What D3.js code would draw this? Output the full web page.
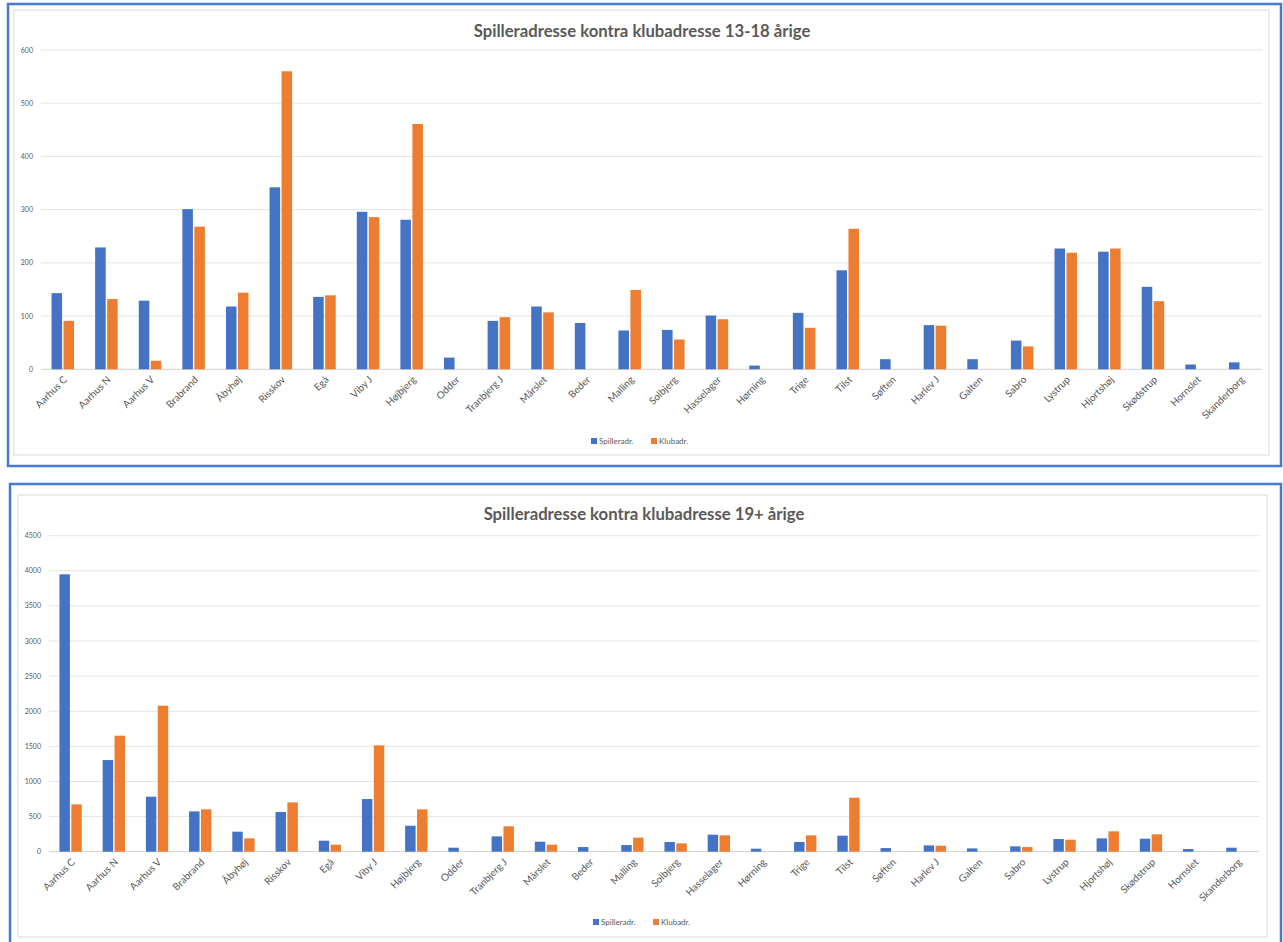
<!DOCTYPE html>
<html lang="da">
  <head>
    <meta charset="utf-8">
    <script type="text/javascript" src="https://cdn.jsdelivr.net/npm/d3@7/dist/d3.min.js"></script>
    <style>
      body { margin: 0; background: #fff; }
      svg { display: block; }
      text { font-family: Lato, "Open Sans", sans-serif; fill: #595959; }
    </style>
  </head>
  <body>
    <svg id="chart" width="1283" height="942"></svg>
  </body>
  <script type="text/javascript">

    // kategorier (bydele)
    var categories = ["Aarhus C", "Aarhus N", "Aarhus V", "Brabrand", "Åbyhøj", "Risskov", "Egå", "Viby J",
      "Højbjerg", "Odder", "Tranbjerg J", "Mårslet", "Beder", "Malling", "Solbjerg", "Hasselager",
      "Hørning", "Trige", "Tilst", "Søften", "Harlev J", "Galten", "Sabro", "Lystrup", "Hjortshøj",
      "Skødstrup", "Hornslet", "Skanderborg"];

    var seriesNames = ["Spilleradr.", "Klubadr."];

    // 13-18 årige
    var spiller13 = [143, 229, 129, 301, 118, 342, 136, 296, 281, 22, 91, 118, 87, 73, 74, 101,
      7, 106, 186, 19, 83, 19, 54, 227, 221, 155, 9, 13];
    var klub13 = [91, 132, 16, 268, 144, 560, 139, 286, 461, null, 98, 107, null, 149, 56, 94,
      null, 78, 264, null, 82, null, 43, 219, 227, 128, null, null];
    var ticks13 = [0, 100, 200, 300, 400, 500, 600];

    // 19+ årige
    var spiller19 = [3950, 1305, 783, 574, 285, 565, 157, 750, 370, 57, 218, 142, 66, 95, 138, 242,
      43, 138, 228, 52, 90, 47, 76, 180, 190, 185, 38, 57];
    var klub19 = [674, 1652, 2079, 603, 190, 702, 100, 1514, 603, null, 361, 100, null, 200, 119, 233,
      null, 233, 769, null, 85, null, 66, 171, 290, 247, null, null];
    var ticks19 = [0, 500, 1000, 1500, 2000, 2500, 3000, 3500, 4000, 4500];

    var colors = ["#4472C4", "#ED7D31"];

    var svg = d3.select("#chart");

    var draw = function(g, opt) {
      // ramme
      g.append("rect")
        .attr("x", opt.box[0]).attr("y", opt.box[1])
        .attr("width", opt.box[2]).attr("height", opt.box[3])
        .attr("fill", "none").attr("stroke", "#4a78cf").attr("stroke-width", 2.5);
      g.append("rect")
        .attr("x", opt.inner[0]).attr("y", opt.inner[1])
        .attr("width", opt.inner[2]).attr("height", opt.inner[3])
        .attr("fill", "none").attr("stroke", "#e6e6e6").attr("stroke-width", 1.5);

      g.append("text")
        .text(opt.title)
        .attr("x", opt.titleX).attr("y", opt.titleY)
        .attr("text-anchor", "middle")
        .style("font-size", "16.7px").style("font-weight", "bold");

      var x0 = d3.scaleBand().domain(categories).range([opt.left, opt.right]);
      var x1 = d3.scaleBand().domain(seriesNames).range([0, x0.bandwidth()])
        .paddingInner(0.12).paddingOuter(0.88);
      var y = d3.scaleLinear().domain([0, opt.max]).range([opt.bottom, opt.top]);

      // gitterlinjer
      g.selectAll("line.grid").data(opt.ticks).enter()
        .append("line")
        .attr("class", "grid")
        .attr("x1", opt.left).attr("x2", opt.right)
        .attr("y1", function(d) { return y(d); })
        .attr("y2", function(d) { return y(d); })
        .attr("stroke", function(d) { return d === 0 ? "#d0d0d0" : "#e4e4e4"; })
        .attr("stroke-width", 1);

      g.selectAll("text.ytick").data(opt.ticks).enter()
        .append("text")
        .attr("class", "ytick")
        .text(function(d) { return d; })
        .attr("x", opt.left - 8)
        .attr("y", function(d) { return y(d) + 2.5; })
        .attr("text-anchor", "end")
        .style("font-size", "7px");

      var series = [opt.a, opt.b];
      series.forEach(function(vals, si) {
        var rows = categories.map(function(c, i) { return { cat: c, v: vals[i] }; })
          .filter(function(d) { return d.v != null; });
        g.selectAll("rect.s" + si).data(rows).enter()
          .append("rect")
          .attr("class", "s" + si)
          .attr("x", function(d) { return x0(d.cat) + x1(seriesNames[si]); })
          .attr("y", function(d) { return y(d.v); })
          .attr("width", x1.bandwidth())
          .attr("height", function(d) { return y(0) - y(d.v); })
          .attr("fill", colors[si]);
      });

      g.selectAll("text.xlab").data(categories).enter()
        .append("text")
        .attr("class", "xlab")
        .text(function(d) { return d; })
        .attr("text-anchor", "end")
        .attr("transform", function(d) {
          var cx = x0(d) + x0.bandwidth() / 2 + 5;
          return "translate(" + cx + "," + (opt.bottom + 11) + ") rotate(-45)";
        })
        .style("font-size", "10px");

      // legende
      var lg = g.append("g").attr("transform", "translate(" + opt.legendX + "," + opt.legendY + ")");
      lg.append("rect").attr("x", 0).attr("y", -4).attr("width", 6).attr("height", 6).attr("fill", colors[0]);
      lg.append("text").text(seriesNames[0]).attr("x", 8).attr("y", 2).style("font-size", "8px");
      lg.append("rect").attr("x", 60).attr("y", -4).attr("width", 6).attr("height", 6).attr("fill", colors[1]);
      lg.append("text").text(seriesNames[1]).attr("x", 68).attr("y", 2).style("font-size", "8px");
    };

    draw(svg.append("g"), {
      box: [8, 4, 1273, 462], inner: [14, 10, 1255, 445],
      title: "Spilleradresse kontra klubadresse 13-18 årige", titleX: 642, titleY: 37,
      left: 41, right: 1262, top: 50, bottom: 369.3, max: 600, ticks: ticks13,
      a: spiller13, b: klub13, legendX: 591, legendY: 442
    });

    draw(svg.append("g"), {
      box: [10, 484, 1271, 470], inner: [18, 495, 1249, 442],
      title: "Spilleradresse kontra klubadresse 19+ årige", titleX: 644, titleY: 520,
      left: 49, right: 1259, top: 535.7, bottom: 851.7, max: 4500, ticks: ticks19,
      a: spiller19, b: klub19, legendX: 593, legendY: 923
    });

  </script>
</html>
